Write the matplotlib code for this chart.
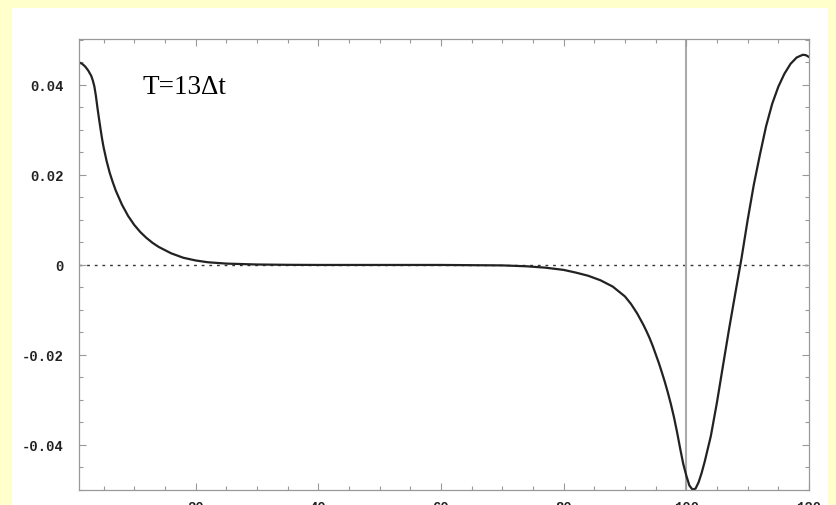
import matplotlib
matplotlib.use("Agg")
import matplotlib.pyplot as plt
from matplotlib.patches import Rectangle
from matplotlib.ticker import MultipleLocator, FixedLocator, FixedFormatter

# curve
x_vals = [1, 1.5, 2, 2.5, 3, 3.25, 3.5, 3.75, 4, 4.25, 4.5, 4.75, 5, 5.5, 6, 6.5, 7, 8, 9,
          10, 11, 12, 13, 14, 16, 18, 20, 22, 25, 30, 35, 40, 50, 60, 70, 74, 77, 80, 82,
          84, 86, 88, 90, 91, 92, 93, 93.5, 94, 94.5, 95, 95.5, 96, 96.5, 97, 97.5, 98,
          98.5, 99, 99.5, 100, 100.5, 101, 101.5, 102, 102.5, 103, 104, 105, 106, 107,
          108, 109, 110, 111, 112, 113, 114, 115, 116, 117, 118, 119, 119.5, 120]
y_vals = [0.0450, 0.0447, 0.0441, 0.0432, 0.0420, 0.0410, 0.0397, 0.0376, 0.0350, 0.0326,
          0.0303, 0.0281, 0.0262, 0.0231, 0.0205, 0.0184, 0.0165, 0.0134, 0.0109,
          0.0089, 0.0073, 0.0060, 0.0049, 0.0040, 0.0026, 0.0016, 0.0010, 0.0006, 0.0003,
          0.0001, 0.00003, 0.0, 0.0, 0.0, -0.0001, -0.0003, -0.0006, -0.0011, -0.0017,
          -0.0024, -0.0034, -0.0048, -0.0070, -0.0087, -0.0108, -0.0133, -0.0147, -0.0162,
          -0.0179, -0.0198, -0.0217, -0.0238, -0.0260, -0.0284, -0.0310, -0.0339,
          -0.0372, -0.0408, -0.0442, -0.0468, -0.0490, -0.0499, -0.0497, -0.0483, -0.0462,
          -0.0437, -0.0380, -0.0305, -0.0222, -0.0140,
          -0.0062, 0.0015, 0.0100, 0.0178, 0.0245, 0.0308, 0.0358, 0.0396, 0.0425, 0.0447,
          0.0461, 0.0467, 0.0466, 0.0462]

x_ticks = [20, 40, 60, 80, 100, 120]
x_ticklabels = ["20", "40", "60", "80", "100", "120"]
y_ticks = [-0.04, -0.02, 0, 0.02, 0.04]
y_ticklabels = ["-0.04", "-0.02", "0", "0.02", "0.04"]
marker_x = 100
label = "T=13\u0394t"

fig = plt.figure(figsize=(8.37, 5.06), dpi=100)
fig.patch.set_facecolor("#FFFFCC")
# white panel behind the plot
fig.patches.append(Rectangle((12 / 837, 0), 816 / 837, 1 - 9 / 506,
                             transform=fig.transFigure, facecolor="white",
                             edgecolor="none", zorder=-5))

ax = fig.add_axes([79 / 837, 1 - 491 / 506, 730 / 837, 451 / 506])
ax.set_zorder(1)
ax.set_facecolor("white")

ax.axhline(0, color="#333333", lw=1.0, ls=(0, (2, 3.5)), zorder=1)
ax.axvline(marker_x, color="#aaaaaa", lw=1.5, zorder=1)
ax.plot(x_vals, y_vals, color="#222222", lw=1.6, zorder=2)

ax.set_xlim(1, 120)
ax.set_ylim(-0.05, 0.0502)

ax.xaxis.set_major_locator(FixedLocator(x_ticks))
ax.xaxis.set_major_formatter(FixedFormatter(x_ticklabels))
ax.xaxis.set_minor_locator(MultipleLocator(5))
ax.yaxis.set_major_locator(FixedLocator(y_ticks))
ax.yaxis.set_major_formatter(FixedFormatter(y_ticklabels))
ax.yaxis.set_minor_locator(MultipleLocator(0.005))

ax.tick_params(which="both", direction="in", top=True, right=True, color="#999999", width=0.8)
ax.tick_params(which="major", length=5)
ax.tick_params(which="minor", length=3)
ax.tick_params(axis="y", pad=11)
ax.tick_params(axis="x", pad=7)
for t in ax.get_xticklabels() + ax.get_yticklabels():
    t.set_family("Liberation Mono")
    t.set_fontweight("bold")
    t.set_fontsize(10)
    t.set_color("#222222")

for s in ax.spines.values():
    s.set_color("#999999")
    s.set_linewidth(0.9)

ax.text(143 / 837, 1 - 94 / 506, label, transform=fig.transFigure,
        family="Liberation Serif", fontsize=19.5, color="black", va="baseline")

fig.savefig("out.png", dpi=100, facecolor=fig.get_facecolor())
